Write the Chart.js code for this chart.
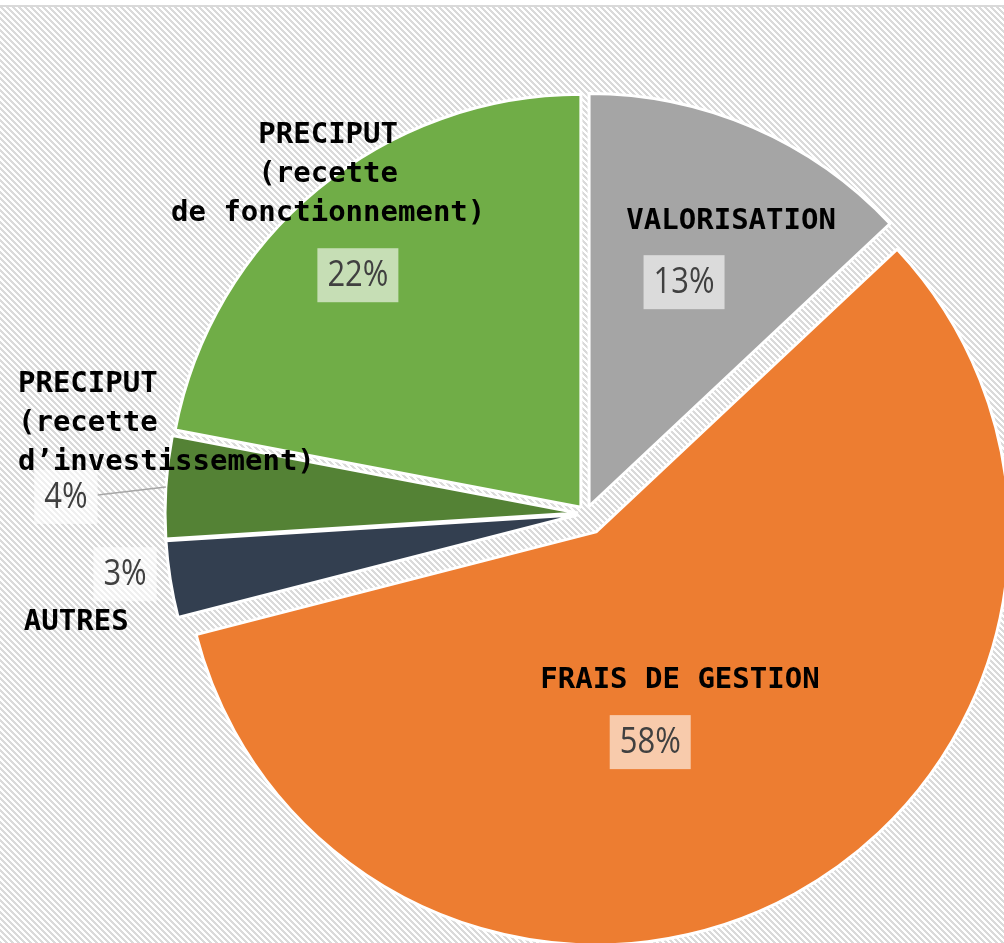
<!DOCTYPE html>
<html lang="fr">
<head>
<meta charset="utf-8">
<script src="https://cdn.jsdelivr.net/npm/chart.js@4.4.1/dist/chart.umd.min.js"></script>
<style>
  html, body { margin: 0; padding: 0; background: #fff; }
  #frame { position: relative; width: 1004px; height: 943px; overflow: hidden; }
  #hatch {
    position: absolute; left: 0; top: 5px; right: 0; bottom: 0;
    border-top: 2px solid #d9d9d9;
    background-image: url("data:image/svg+xml,%3Csvg xmlns='http://www.w3.org/2000/svg' width='6' height='6' shape-rendering='crispEdges'%3E%3Crect width='6' height='6' fill='%23ffffff'/%3E%3Cpath d='M0 0h3v1H0zM1 1h3v1H1zM2 2h3v1H2zM3 3h3v1H3zM4 4h2v1H4zM0 4h1v1H0zM5 5h1v1H5zM0 5h2v1H0z' fill='%23dadada'/%3E%3C/svg%3E");
  }
  #box { position: absolute; left: 0; top: 0; width: 1004px; height: 943px; }
</style>
</head>
<body>
<div id="frame">
  <div id="hatch"></div>
  <div id="box"><canvas id="pie"></canvas></div>
</div>
<script>
// slices, clockwise from 12 o'clock
const categories = [
  ['VALORISATION'],
  ['FRAIS DE GESTION'],
  ['AUTRES'],
  ['PRECIPUT', '(recette', 'd\u2019investissement)'],
  ['PRECIPUT', '(recette', 'de fonctionnement)']
];
const shares = [13, 58, 3, 4, 22];
const colors = ['#a5a5a5', '#ed7d31', '#333f50', '#548235', '#70ad47'];

// how far each slice is pulled out of the pie (px)
const explode = [7.7, 21, 8, 8, 8];

// label placement relative to each (exploded) slice centre, in units of the radius
const labelPos = [
  { name: [0.344, -0.689], align: 'center', pct: [0.230, -0.543] },
  { name: [0.203, 0.359], align: 'center', pct: [0.131, 0.509] },
  { name: [-1.342, 0.260], align: 'left', pct: [-1.097, 0.144] },
  { name: [-1.356, -0.310], align: 'left', pct: [-1.240, -0.039], leader: true },
  { name: [-0.612, -0.901], align: 'center', pct: [-0.540, -0.562] }
];

const sliceLabels = {
  id: 'sliceLabels',
  afterDatasetUpdate(chart, args) {
    args.meta.data.forEach((arc, i) => {
      const mid = (arc.startAngle + arc.endAngle) / 2;
      arc.x += Math.cos(mid) * explode[i];
      arc.y += Math.sin(mid) * explode[i];
    });
  },
  afterDatasetsDraw(chart) {
    const ctx = chart.ctx;
    const arcs = chart.getDatasetMeta(0).data;
    const total = shares.reduce((a, b) => a + b, 0);
    const squeeze = 0.86; // percentages use a narrow face in the original
    ctx.save();
    arcs.forEach((arc, i) => {
      const R = arc.outerRadius;
      const p = labelPos[i];

      // percentage with its light box
      const px = arc.x + p.pct[0] * R;
      const py = arc.y + p.pct[1] * R;
      const txt = Math.round(shares[i] / total * 100) + '%';
      ctx.font = '36px "Open Sans"';
      const w = ctx.measureText(txt).width * squeeze + 20;
      const h = 54;
      if (p.leader) {
        const mid = (arc.startAngle + arc.endAngle) / 2;
        ctx.strokeStyle = '#a6a6a6';
        ctx.lineWidth = 1.5;
        ctx.beginPath();
        ctx.moveTo(px + w / 2, py - 2);
        ctx.lineTo(arc.x + Math.cos(mid) * R, arc.y + Math.sin(mid) * R);
        ctx.stroke();
      }
      ctx.fillStyle = 'rgba(255,255,255,0.6)';
      ctx.fillRect(px - w / 2, py - h / 2, w, h);
      ctx.save();
      ctx.translate(px, py + 1);
      ctx.scale(squeeze, 1);
      ctx.fillStyle = '#404040';
      ctx.textAlign = 'center';
      ctx.textBaseline = 'middle';
      ctx.fillText(txt, 0, 0);
      ctx.restore();

      // category name
      ctx.font = 'bold 29px "DejaVu Sans Mono"';
      ctx.fillStyle = '#000';
      ctx.textAlign = p.align;
      ctx.textBaseline = 'middle';
      const nx = arc.x + p.name[0] * R;
      const ny = arc.y + p.name[1] * R;
      categories[i].forEach((line, k) => {
        ctx.fillText(line, nx, ny + k * 39);
      });
    });
    ctx.restore();
  }
};

new Chart(document.getElementById('pie'), {
  type: 'pie',
  data: {
    labels: categories.map(c => c.join(' ')),
    datasets: [{
      data: shares,
      backgroundColor: colors,
      borderColor: '#ffffff',
      borderWidth: 3,
      radius: 413,
      clip: false
    }]
  },
  options: {
    responsive: true,
    maintainAspectRatio: false,
    animation: false,
    layout: { padding: { left: 168, top: 84, right: 0, bottom: 0 } },
    plugins: {
      legend: { display: false },
      tooltip: { enabled: false }
    }
  },
  plugins: [sliceLabels]
});
</script>
</body>
</html>
